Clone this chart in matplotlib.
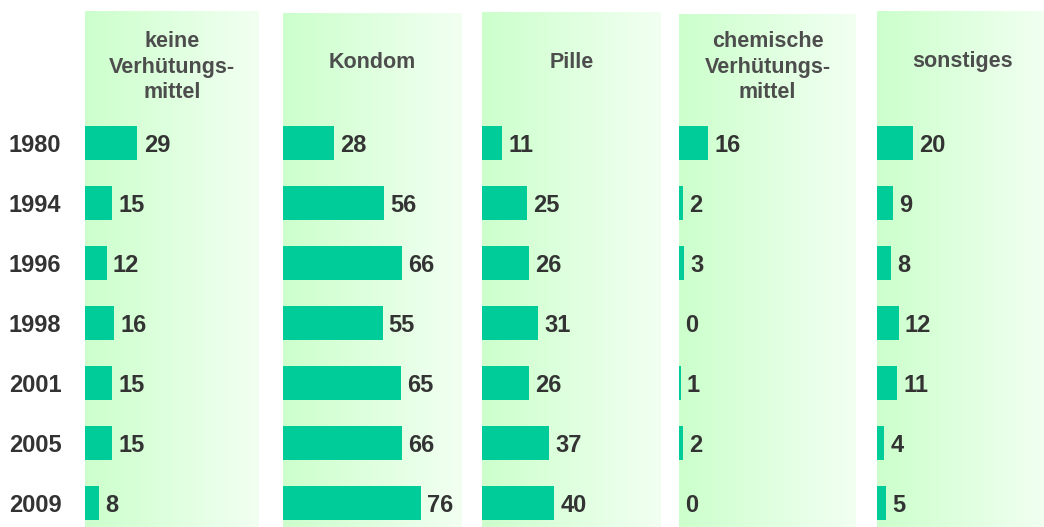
import numpy as np
import matplotlib
matplotlib.use("Agg")
import matplotlib.pyplot as plt
from matplotlib import transforms

plt.rcParams['font.family'] = ['Liberation Sans', 'DejaVu Sans']

years = ['1980', '1994', '1996', '1998', '2001', '2005', '2009']
headers = ['keine\nVerhütungs-\nmittel', 'Kondom', 'Pille',
           'chemische\nVerhütungs-\nmittel', 'sonstiges']
keine = [29, 15, 12, 16, 15, 15, 8]
kondom = [28, 56, 66, 55, 65, 66, 76]
pille = [11, 25, 26, 31, 26, 37, 40]
chemisch = [16, 2, 3, 0, 1, 2, 0]
sonstiges = [20, 9, 8, 12, 11, 4, 5]
series = [keine, kondom, pille, chemisch, sonstiges]

W, H = 1044, 527
fig = plt.figure(figsize=(W / 100, H / 100), dpi=100)
fig.patch.set_facecolor('white')

# panel boxes in pixels (left, right, top)
lefts = [85, 283, 482, 679, 877]
rights = [259, 462, 661, 856, 1048]
tops = [11, 13, 12, 14, 11]
bottom = 527
ppu = 1.81  # pixels per percent
row0, rowstep = 143, 60

grad = np.linspace(0, 1, 256)
c0 = np.array([204, 255, 204]) / 255
c1 = np.array([242, 255, 242]) / 255
img = (c0[None, :] * (1 - grad[:, None]) + c1[None, :] * grad[:, None])[None, :, :]

bar_color = '#00CC99'
num_color = '#333333'
head_color = '#4D4D4D'

axes = []
for i, vals in enumerate(series):
    pw = rights[i] - lefts[i]
    top = tops[i]
    ax = fig.add_axes([lefts[i] / W, (H - bottom) / H, pw / W, (bottom - top) / H])
    xmax = pw / ppu
    ytop = (top - row0) / rowstep
    ybot = (bottom - row0) / rowstep
    ax.set_xlim(0, xmax)
    ax.set_ylim(ybot, ytop)
    ax.imshow(img, extent=[0, xmax, ybot, ytop], aspect='auto', zorder=0)
    y = np.arange(len(years))
    ax.barh(y, vals, height=0.56, color=bar_color, zorder=2)
    for yy, v in zip(y, vals):
        ax.text(v + 3.4, yy + 0.05, str(v), ha='left', va='center',
                fontsize=17, fontweight='bold', color=num_color, zorder=3)
    hy = 67 if '\n' in headers[i] else 62
    ax.text(xmax / 2, (hy - row0) / rowstep, headers[i], ha='center', va='center',
            fontsize=15.5, fontweight='bold', color=head_color, linespacing=1.3)
    ax.set_axis_off()
    axes.append(ax)

tr = transforms.blended_transform_factory(fig.transFigure, axes[0].transData)
for yy, yr in enumerate(years):
    axes[0].text(9 / W, yy + 0.05, yr, transform=tr, ha='left', va='center',
                 fontsize=17, fontweight='bold', color=num_color)

fig.savefig('out.png', dpi=100)
